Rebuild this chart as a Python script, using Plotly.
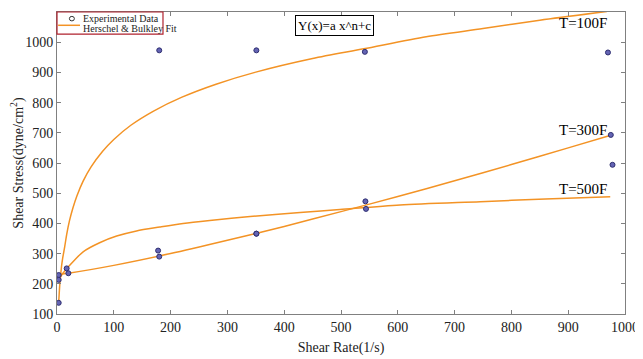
import plotly.graph_objects as go

# Experimental data (shear rate 1/s, shear stress dyne/cm^2)
rate_100F = [3, 180, 351, 542, 970]
stress_100F = [137, 973, 973, 968, 966]
rate_300F = [3, 20, 180, 351, 544, 975]
stress_300F = [229, 235, 290, 366, 448, 693]
rate_500F = [3, 17, 178, 351, 543, 978]
stress_500F = [213, 251, 310, 366, 473, 594]

# Herschel & Bulkley fit curves
fit_x_100F = [3, 5, 8, 10, 13.6, 17, 22, 28, 35, 46, 60, 80, 100, 130, 170, 220, 280, 350, 450, 540, 650, 750, 850, 968]
fit_y_100F = [137, 200, 258, 285, 323, 363, 409, 451, 491, 540, 587, 638, 678, 725, 772, 818, 861, 901, 946, 978, 1018, 1045, 1073, 1102]
fit_x_300F = [3, 20, 100, 200, 300, 400, 500, 600, 700, 800, 900, 975]
fit_y_300F = [231, 235, 261, 300, 344, 390, 439, 489, 541, 595, 650, 692]
fit_x_500F = [3, 10, 20, 46, 75, 105, 140, 181, 222, 269, 340, 428, 498, 604, 745, 860, 974]
fit_y_500F = [213, 234, 256, 306, 336, 358, 375, 388, 400, 410, 423, 436, 446, 461, 472, 481, 488]

x_ticks = [0, 100, 200, 300, 400, 500, 600, 700, 800, 900, 1000]
y_ticks = [100, 200, 300, 400, 500, 600, 700, 800, 900, 1000, 1100]

curve_labels = ["T=100F", "T=300F", "T=500F"]
label_x = [971, 971, 971]
label_y = [1062, 709, 514]

FONT = "Liberation Serif"
LINE_COLOR = "#F39325"
MARK_FILL = "#6464B4"
MARK_EDGE = "#2E2E70"

fig = go.Figure()
for fx, fy in [(fit_x_100F, fit_y_100F), (fit_x_300F, fit_y_300F), (fit_x_500F, fit_y_500F)]:
    fig.add_trace(go.Scatter(x=fx, y=fy, mode="lines",
                             line=dict(color=LINE_COLOR, width=1.5, shape="spline", smoothing=0.8),
                             showlegend=False, hoverinfo="skip"))
for rx, sy in [(rate_100F, stress_100F), (rate_300F, stress_300F), (rate_500F, stress_500F)]:
    fig.add_trace(go.Scatter(x=rx, y=sy, mode="markers",
                             marker=dict(symbol="circle", size=5, color=MARK_FILL, line=dict(color=MARK_EDGE, width=1)),
                             showlegend=False))

# manual legend (box, symbols, text) in paper coordinates
fig.add_shape(type="rect", xref="paper", yref="paper", x0=0, x1=0.1866, y0=0.927, y1=1.0,
              line=dict(color="#B0222E", width=1.2), fillcolor="white", layer="above")
fig.add_shape(type="circle", xref="paper", yref="paper", x0=0.0218, x1=0.0306, y0=0.9705, y1=0.9855,
              line=dict(color="#333333", width=1), layer="above")
fig.add_shape(type="line", xref="paper", yref="paper", x0=0.002, x1=0.0405, y0=0.956, y1=0.956,
              line=dict(color=LINE_COLOR, width=1.5), layer="above")
fig.add_annotation(xref="paper", yref="paper", x=0.043, y=0.978, text="Experimental Data", showarrow=False,
                   xanchor="left", yanchor="middle", font=dict(family=FONT, size=10, color="#222222"))
fig.add_annotation(xref="paper", yref="paper", x=0.043, y=0.944, text="Herschel &amp; Bulkley Fit", showarrow=False,
                   xanchor="left", yanchor="middle", font=dict(family=FONT, size=10, color="#222222"))

# equation box
fig.add_annotation(xref="paper", yref="paper", x=0.488, y=0.955, text="Y(x)=a x^n+c", showarrow=False,
                   xanchor="center", yanchor="middle", bordercolor="#000000", borderwidth=1, borderpad=2,
                   bgcolor="white", font=dict(family=FONT, size=13, color="#000000"))

for t, lx, ly in zip(curve_labels, label_x, label_y):
    fig.add_annotation(x=lx, y=ly, text=t, showarrow=False, xanchor="right", yanchor="middle",
                       font=dict(family=FONT, size=15, color="#000000"))

axis_common = dict(showgrid=False, zeroline=False, showline=True, linecolor="#808080", linewidth=1,
                   mirror="allticks", ticks="inside", ticklen=4, tickcolor="#808080", automargin=False,
                   tickfont=dict(family=FONT, size=14, color="#222222"))
fig.update_xaxes(range=[0, 1000], tickvals=x_ticks, ticktext=[str(v) for v in x_ticks],
                 title=dict(text="Shear Rate(1/s)", font=dict(family=FONT, size=14, color="#222222"), standoff=8),
                 **axis_common)
fig.update_yaxes(range=[100, 1100], tickvals=y_ticks, ticktext=[str(v) for v in y_ticks],
                 title=dict(text="Shear Stress(dyne/cm<sup>2</sup>)", font=dict(family=FONT, size=14, color="#222222"), standoff=4),
                 **axis_common)
# the page adds an 8px body margin, so the figure is made 8px smaller and shifted
fig.update_layout(width=635, height=351, margin=dict(l=49, r=18, t=4, b=45, autoexpand=False),
                  plot_bgcolor="white", paper_bgcolor="white", showlegend=False)
fig.write_html("out.html")
